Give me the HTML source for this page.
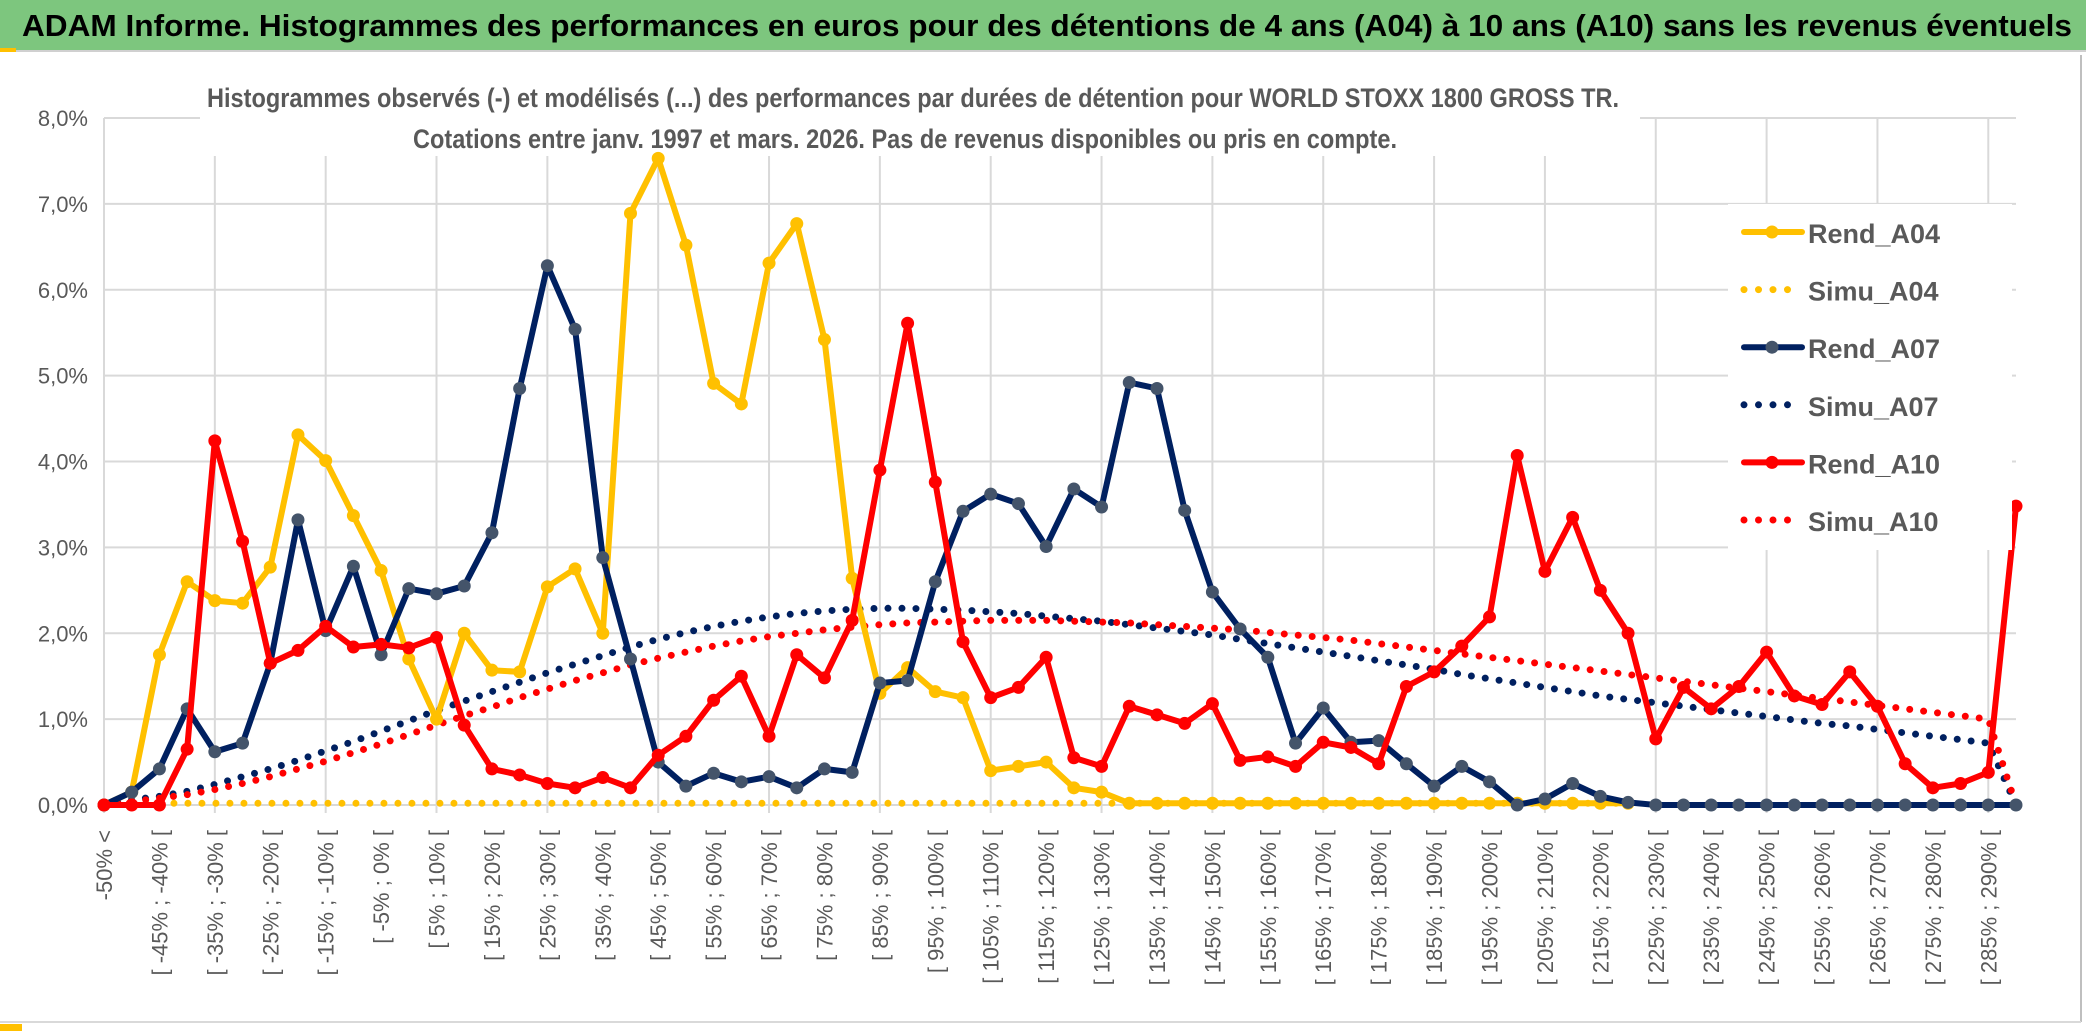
<!DOCTYPE html>
<html><head><meta charset="utf-8"><style>
body{margin:0;background:#fff;}
svg{display:block;font-family:"Liberation Sans",sans-serif;}
</style></head><body>
<svg id="chart" width="2086" height="1031" viewBox="0 0 2086 1031" xmlns="http://www.w3.org/2000/svg">
<rect x="0" y="0" width="2086" height="1031" fill="#fff"/>
<rect x="0" y="0" width="2086" height="50" fill="#7dc67e"/>
<line x1="0" y1="51" x2="2086" y2="51" stroke="#d0d0d0" stroke-width="2"/>
<rect x="0" y="48" width="16" height="4" fill="#ffc000"/>
<text x="22" y="36" font-size="31" font-weight="bold" fill="#000" textLength="2050" lengthAdjust="spacingAndGlyphs">ADAM Informe. Histogrammes des performances en euros pour des détentions de 4 ans (A04) à 10 ans (A10) sans les revenus éventuels</text>
<line x1="2081" y1="55" x2="2081" y2="1022" stroke="#bfbfbf" stroke-width="2"/>
<line x1="0" y1="1022" x2="2081" y2="1022" stroke="#d9d9d9" stroke-width="2"/>
<rect x="0" y="1024" width="22" height="7" fill="#ffc000"/>
<rect x="2051" y="970" width="35" height="61" fill="#ffc000" opacity="0"/>
<g id="grid"></g>
<rect x="200" y="58" width="1440" height="98" fill="#fff"/>
<text x="913" y="107" font-size="27" font-weight="bold" fill="#595959" text-anchor="middle" textLength="1412" lengthAdjust="spacingAndGlyphs">Histogrammes observés (-) et modélisés (...) des performances  par durées de détention pour WORLD STOXX 1800 GROSS TR.</text>
<text x="905" y="148" font-size="27" font-weight="bold" fill="#595959" text-anchor="middle" textLength="984" lengthAdjust="spacingAndGlyphs">Cotations entre janv. 1997 et mars. 2026. Pas de revenus disponibles ou pris en compte.</text>
<g id="yaxis"></g>
<g id="xaxis"></g>
<g id="series"></g>
<g id="legend"></g>
</svg>
<script>
const categories = (function(){const a=["-50% <"];for(let i=1;i<70;i++){const lo=-55+5*i;a.push("[ "+lo+"% ; "+(lo+5)+"% [");}return a;})();
const yTicks = [0,1,2,3,4,5,6,7,8];
const yTickLabels = ["0,0%","1,0%","2,0%","3,0%","4,0%","5,0%","6,0%","7,0%","8,0%"];
const rendA04 = [0,0.15,1.75,2.6,2.38,2.35,2.77,4.31,4.01,3.37,2.73,1.7,1.0,2.0,1.57,1.55,2.54,2.75,2.0,6.89,7.53,6.52,4.91,4.67,6.31,6.77,5.42,2.64,1.3,1.6,1.32,1.25,0.4,0.45,0.5,0.2,0.15,0.02,0.02,0.02,0.02,0.02,0.02,0.02,0.02,0.02,0.02,0.02,0.02,0.02,0.02,0.02,0.02,0.02,0.02,0.02,null,null,null,null,null,null,null,null,null,null,null,null,null,null];
const simuA04 = [0,0.02,0.02,0.02,0.02,0.02,0.02,0.02,0.02,0.02,0.02,0.02,0.02,0.02,0.02,0.02,0.02,0.02,0.02,0.02,0.02,0.02,0.02,0.02,0.02,0.02,0.02,0.02,0.02,0.02,0.02,0.02,0.02,0.02,0.02,0.02,0.02,0.02,0.02,0.02,0.02,0.02,0.02,0.02,0.02,0.02,0.02,0.02,0.02,0.02,0.02,0.02,0.02,0.02,0.02,0.02,null,null,null,null,null,null,null,null,null,null,null,null,null,null];
const rendA07 = [0,0.15,0.42,1.12,0.62,0.72,1.65,3.32,2.03,2.78,1.75,2.52,2.46,2.55,3.17,4.85,6.28,5.54,2.88,1.7,0.5,0.22,0.37,0.27,0.33,0.2,0.42,0.38,1.42,1.45,2.6,3.42,3.62,3.51,3.01,3.68,3.47,4.92,4.85,3.43,2.48,2.05,1.72,0.72,1.13,0.73,0.75,0.48,0.22,0.45,0.27,0.0,0.07,0.25,0.1,0.03,0,0,0,0,0,0,0,0,0,0,0,0,0,0];
const simuA07 = [0,0.06,0.1,0.16,0.24,0.33,0.42,0.52,0.63,0.74,0.86,0.98,1.1,1.21,1.32,1.43,1.54,1.64,1.74,1.84,1.93,2.01,2.08,2.14,2.19,2.23,2.26,2.28,2.29,2.29,2.28,2.27,2.25,2.23,2.2,2.17,2.14,2.1,2.06,2.02,1.98,1.93,1.88,1.83,1.78,1.73,1.68,1.63,1.58,1.52,1.47,1.42,1.37,1.32,1.27,1.23,1.19,1.15,1.11,1.07,1.03,0.99,0.95,0.92,0.88,0.84,0.8,0.76,0.72,0];
const rendA10 = [0,0,0,0.65,4.24,3.07,1.65,1.8,2.08,1.84,1.87,1.83,1.95,0.93,0.42,0.35,0.25,0.2,0.32,0.2,0.58,0.8,1.22,1.5,0.8,1.75,1.48,2.15,3.9,5.61,3.76,1.9,1.25,1.37,1.72,0.55,0.45,1.15,1.05,0.95,1.18,0.52,0.56,0.45,0.73,0.67,0.48,1.38,1.55,1.85,2.19,4.07,2.72,3.35,2.5,2.0,0.77,1.37,1.12,1.38,1.78,1.27,1.17,1.55,1.15,0.48,0.2,0.25,0.38,3.48];
const simuA10 = [0,0.04,0.08,0.12,0.18,0.25,0.33,0.42,0.51,0.61,0.71,0.82,0.93,1.04,1.14,1.25,1.35,1.45,1.54,1.63,1.71,1.78,1.85,1.91,1.96,2.0,2.04,2.07,2.1,2.12,2.13,2.14,2.15,2.15,2.15,2.14,2.13,2.12,2.1,2.08,2.06,2.04,2.01,1.98,1.95,1.92,1.88,1.84,1.8,1.76,1.72,1.68,1.64,1.6,1.56,1.52,1.48,1.44,1.4,1.36,1.32,1.28,1.24,1.2,1.16,1.12,1.08,1.04,1.0,0];
const legendNames = ["Rend_A04","Simu_A04","Rend_A07","Simu_A07","Rend_A10","Simu_A10"];

const NS="http://www.w3.org/2000/svg";
const X0=104,X1=2016,Y0=805,YTOP=118,YMAX=8;
function xs(i){return X0+(X1-X0)*i/(categories.length-1);}
function ys(v){return Y0-(Y0-YTOP)*v/YMAX;}
function mk(tag,attrs,parent){const e=document.createElementNS(NS,tag);for(const k in attrs)e.setAttribute(k,attrs[k]);parent.appendChild(e);return e;}

const grid=document.getElementById('grid');
yTicks.forEach(t=>{const l=mk('line',{x1:X0,x2:X1,y1:ys(t),y2:ys(t),stroke:'#d9d9d9','stroke-width':2},grid);

});
for(let i=0;i<categories.length;i+=4){const l=mk('line',{x1:xs(i),x2:xs(i),y1:ys(8),y2:Y0+8,stroke:'#d9d9d9','stroke-width':2},grid);

}

const ya=document.getElementById('yaxis');
yTicks.forEach((t,i)=>{const e=mk('text',{x:88,y:ys(t)+8,'font-size':22,fill:'#595959','text-anchor':'end'},ya);e.textContent=yTickLabels[i];

});

const xa=document.getElementById('xaxis');
for(let i=0;i<categories.length;i+=2){const x=xs(i)+8,y=830;const e=mk('text',{x:x,y:y,'font-size':22,fill:'#595959','text-anchor':'end',transform:'rotate(-90 '+x+' '+y+')'},xa);e.textContent=categories[i];

}

const sg=document.getElementById('series');
function pathFor(arr){let d='',pen=false;arr.forEach((v,i)=>{if(v===null){pen=false;return;}d+=(pen?'L':'M')+xs(i).toFixed(1)+' '+ys(v).toFixed(1)+' ';pen=true;});return d;}
function dotted(arr,color,name){const p=mk('path',{d:pathFor(arr),fill:'none',stroke:color,'stroke-width':7,'stroke-linecap':'round','stroke-dasharray':'0 14'},sg);

}
function solid(arr,color,mcolor,name){const p=mk('path',{d:pathFor(arr),fill:'none',stroke:color,'stroke-width':6,'stroke-linejoin':'round'},sg);


arr.forEach((v,i)=>{if(v===null)return;const c=mk('circle',{cx:xs(i),cy:ys(v),r:6.5,fill:mcolor},sg);

});}
dotted(simuA04,'#ffc000','simu-a04-line');
dotted(simuA07,'#002060','simu-a07-line');
dotted(simuA10,'#ff0000','simu-a10-line');
solid(rendA04,'#ffc000','#ffc000','rend-a04-line');
solid(rendA07,'#002060','#44546a','rend-a07-line');
solid(rendA10,'#ff0000','#ff0000','rend-a10-line');

const lg=document.getElementById('legend');
const lb=mk('rect',{x:1728,y:204,width:284,height:346,fill:'#fff'},lg);


const lcol=['#ffc000','#ffc000','#002060','#002060','#ff0000','#ff0000'];
const lmark=['#ffc000',null,'#44546a',null,'#ff0000',null];
legendNames.forEach((n,i)=>{const y=232+i*57.6;
const g=mk('g',{},lg);


if(lmark[i]){mk('line',{x1:1744,x2:1802,y1:y,y2:y,stroke:lcol[i],'stroke-width':6,'stroke-linecap':'round'},g);mk('circle',{cx:1772,cy:y,r:6.5,fill:lmark[i]},g);}
else{mk('line',{x1:1744,x2:1802,y1:y,y2:y,stroke:lcol[i],'stroke-width':7,'stroke-linecap':'round','stroke-dasharray':'0 14.5'},g);}
const t=mk('text',{x:1808,y:y+11,'font-size':27,'font-weight':'bold',fill:'#595959'},g);t.textContent=n;});
</script>
</body></html>
